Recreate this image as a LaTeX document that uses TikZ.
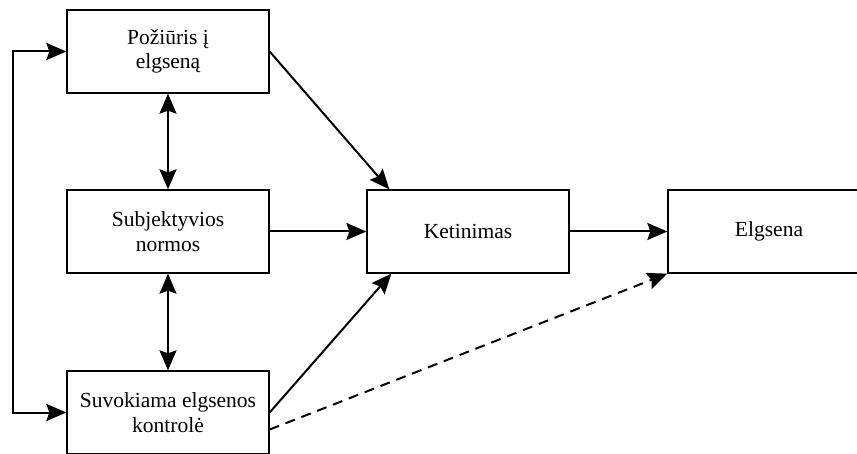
\documentclass[tikz,border=0pt]{standalone}
\usepackage{fontspec}
\setmainfont{Liberation Serif}
\usetikzlibrary{arrows.meta,calc}
\tikzset{
  box/.style={draw, line width=1.3pt, minimum width=202pt, minimum height=83pt, inner sep=0pt, align=center, font=\fontsize{21.5}{24.5}\selectfont},
  conn/.style={line width=2pt, -{Stealth[length=20pt,width=17pt,inset=3pt]}},
  dconn/.style={conn, dash pattern=on 10pt off 7pt},
  biconn/.style={line width=2pt, {Stealth[length=20pt,width=17pt,inset=3pt]}-{Stealth[length=20pt,width=17pt,inset=3pt]}}
}
\begin{document}
\begin{tikzpicture}[x=1pt,y=-1pt]
\useasboundingbox (0,0) rectangle (857,454);
\clip (0,0) rectangle (857,454);
\node[box] (att) at (168,51.5) {Požiūris į\\elgseną};
\node[box] (norm) at (168,231.5) {Subjektyvios\\normos};
\node[box] (ctrl) at (168,412.5) {Suvokiama elgsenos\\kontrolė};
\node[box] (ket) at (468,231.5) {Ketinimas};
\node[box] (elg) at (769,231.5) {Elgsena};
\coordinate (loopL) at (13,0);
\coordinate (ketTop) at ($(ket.north west)+(23,0)$);
\coordinate (ketBot) at ($(ket.south west)+(25,0)$);
\coordinate (ctrlD) at ($(ctrl.east)+(0,17)$);
\draw[biconn] (att.west) -- (att.west -| loopL) -- (ctrl.west -| loopL) -- (ctrl.west);
\draw[biconn] (att.south) -- (norm.north);
\draw[biconn] (norm.south) -- (ctrl.north);
\draw[conn] (att.east) -- (ketTop);
\draw[conn] (norm.east) -- (ket.west);
\draw[conn] (ctrl.east) -- (ketBot);
\draw[conn] (ket.east) -- (elg.west);
\draw[dconn] (ctrlD) -- (elg.south west);
\end{tikzpicture}
\end{document}
